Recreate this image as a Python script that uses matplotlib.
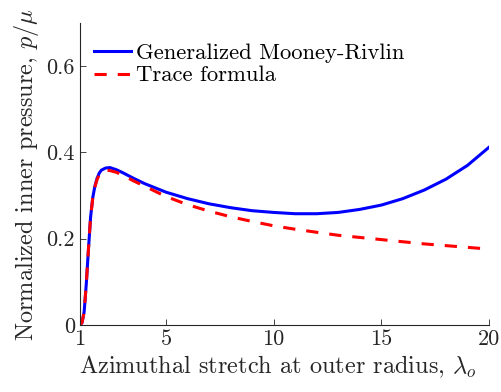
import matplotlib
matplotlib.use('Agg')
import matplotlib.pyplot as plt

# values
stretch = [1.0, 1.1, 1.2, 1.3, 1.4, 1.5, 1.6, 1.7, 1.8, 1.9, 2.0, 2.2, 2.4, 2.7,
           3.0, 3.5, 4.0, 5.0, 6.0, 7.0, 8.0, 9.0, 10.0, 11.0, 12.0, 13.0, 14.0,
           15.0, 16.0, 17.0, 18.0, 19.0, 20.0]
mooney_rivlin = [0.0, 0.005, 0.03, 0.095, 0.175, 0.25, 0.295, 0.322, 0.340, 0.352,
                 0.359, 0.364, 0.365, 0.360, 0.353, 0.340, 0.328, 0.308, 0.293,
                 0.281, 0.272, 0.265, 0.261, 0.258, 0.258, 0.261, 0.268, 0.278,
                 0.293, 0.313, 0.338, 0.370, 0.412]
trace_formula = [0.0, 0.005, 0.03, 0.095, 0.175, 0.25, 0.294, 0.320, 0.337, 0.348,
                 0.354, 0.359, 0.358, 0.354, 0.347, 0.334, 0.322, 0.298, 0.279,
                 0.264, 0.251, 0.240, 0.230, 0.222, 0.215, 0.208, 0.203, 0.198,
                 0.193, 0.188, 0.184, 0.180, 0.176]

x_ticks = [1, 5, 10, 15, 20]
y_ticks = [0, 0.2, 0.4, 0.6]

plt.rcParams['font.family'] = 'serif'
plt.rcParams['font.serif'] = ['cmr10']
plt.rcParams['mathtext.fontset'] = 'cm'
plt.rcParams['axes.formatter.use_mathtext'] = True

fig = plt.figure(figsize=(5.02, 3.92), dpi=100)
ax = fig.add_axes([0.159, 0.171, 0.815, 0.770])

ax.plot(stretch, mooney_rivlin, color='#0000ff', lw=2.2, label='Generalized Mooney-Rivlin')
ax.plot(stretch, trace_formula, color='#ff0000', lw=2.2, ls=(0, (4, 3.6)),
        label='Trace formula')

ax.set_xlim(1, 20)
ax.set_ylim(0, 0.7)
ax.set_xticks(x_ticks)
ax.set_xticklabels([str(t) for t in x_ticks])
ax.set_yticks(y_ticks)
ax.set_yticklabels(['0', '0.2', '0.4', '0.6'])

for side in ['top', 'right']:
    ax.spines[side].set_visible(False)
for side in ['left', 'bottom']:
    ax.spines[side].set_color('#262626')
    ax.spines[side].set_linewidth(0.8)
ax.tick_params(direction='in', length=4, width=0.6, colors='#262626', labelsize=16)

ax.set_xlabel(r'Azimuthal stretch at outer radius, $\lambda_o$', fontsize=17.5,
              color='#262626', labelpad=3)
ax.xaxis.label.set_x(0.485)
ax.set_ylabel(r'Normalized inner pressure, $p/\mu$', fontsize=17.5,
              color='#262626', labelpad=4)

ax.legend(loc='upper left', frameon=False, fontsize=16.3, handlelength=1.65,
          handletextpad=0.2, labelspacing=0.1, borderaxespad=0.3,
          bbox_to_anchor=(-0.005, 0.985))

fig.savefig('out.png', dpi=100)
